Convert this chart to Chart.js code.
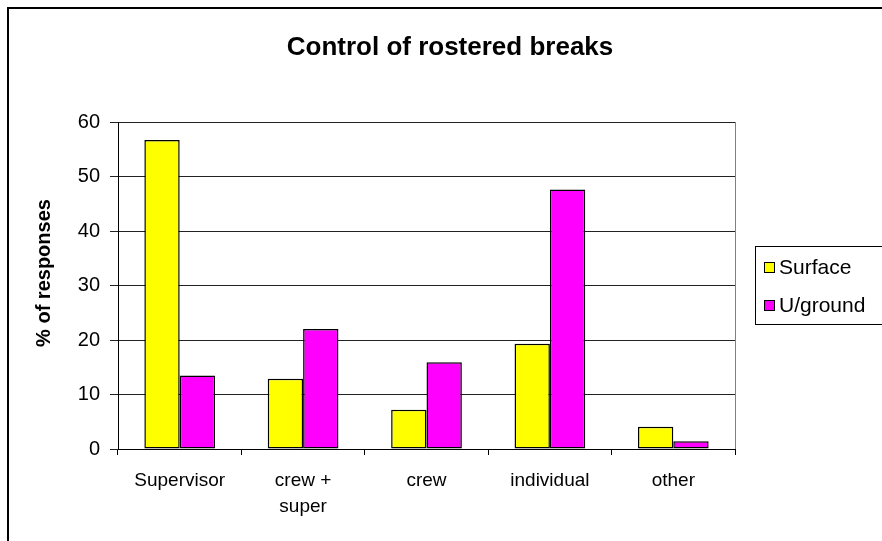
<!DOCTYPE html>
<html>
<head>
<meta charset="utf-8">
<script src="https://cdn.jsdelivr.net/npm/chart.js@4/dist/chart.umd.min.js"></script>
<style>
  html, body { margin: 0; padding: 0; background: #fff; }
  #wrap { position: relative; width: 882px; height: 541px; }
</style>
</head>
<body>
<div id="wrap">
  <canvas id="breaks-chart" width="882" height="541"></canvas>
</div>
<script>
const chartTitle = 'Control of rostered breaks';
const yAxisTitle = '% of responses';
const categories = ['Supervisor', ['crew +', 'super'], 'crew', 'individual', 'other'];
const surface = [56.7, 12.9, 7.2, 19.3, 4.1];
const uground = [13.5, 22.0, 15.9, 47.6, 1.4];
const yTicks = [0, 10, 20, 30, 40, 50, 60];

const FONT = 'Arial, "Liberation Sans", sans-serif';

// frame, title, plot border, axis title and boxed legend in the old spreadsheet style
const decorations = {
    id: 'decorations',
    beforeDraw(chart) {
        const ctx = chart.ctx;
        ctx.save();
        ctx.fillStyle = '#fff';
        ctx.fillRect(0, 0, chart.width, chart.height);
        ctx.strokeStyle = '#000';
        ctx.lineWidth = 2;
        ctx.beginPath();
        ctx.moveTo(8, chart.height);
        ctx.lineTo(8, 8);
        ctx.lineTo(chart.width, 8);
        ctx.stroke();
        ctx.restore();
    },
    afterDraw(chart) {
        const ctx = chart.ctx;
        const area = chart.chartArea;
        ctx.save();

        // chart title, centred over the whole frame
        ctx.fillStyle = '#000';
        ctx.font = 'bold 26px ' + FONT;
        ctx.textAlign = 'center';
        ctx.textBaseline = 'middle';
        ctx.fillText(chartTitle, 450, 48);

        // right edge of plot area
        ctx.strokeStyle = '#808080';
        ctx.lineWidth = 1;
        ctx.beginPath();
        ctx.moveTo(area.right + 0.5, area.top);
        ctx.lineTo(area.right + 0.5, area.bottom);
        ctx.stroke();

        // y axis title
        ctx.font = 'bold 20px ' + FONT;
        ctx.translate(44, 273);
        ctx.rotate(-Math.PI / 2);
        ctx.fillText(yAxisTitle, 0, 0);
        ctx.restore();

        // legend box
        ctx.save();
        const lx = 755, ly = 246;
        ctx.strokeStyle = '#000';
        ctx.lineWidth = 1;
        ctx.strokeRect(lx + 0.5, ly + 0.5, 140, 78);
        ctx.font = '21px ' + FONT;
        ctx.textBaseline = 'middle';
        chart.data.datasets.forEach((ds, i) => {
            const cy = 267 + i * 38;
            ctx.fillStyle = ds.backgroundColor;
            ctx.fillRect(764, cy - 5, 10, 10);
            ctx.strokeStyle = '#000';
            ctx.strokeRect(764.5, cy - 4.5, 10, 10);
            ctx.fillStyle = '#000';
            ctx.fillText(ds.label, 779, cy + 1);
        });
        ctx.restore();
    }
};

new Chart(document.getElementById('breaks-chart'), {
    type: 'bar',
    data: {
        labels: categories,
        datasets: [
            {
                label: 'Surface',
                data: surface,
                backgroundColor: '#FFFF00',
                borderColor: '#000',
                borderWidth: 1.5,
                borderSkipped: false
            },
            {
                label: 'U/ground',
                data: uground,
                backgroundColor: '#FF00FF',
                borderColor: '#000',
                borderWidth: 1.5,
                borderSkipped: false
            }
        ]
    },
    options: {
        responsive: false,
        animation: false,
        datasets: {
            bar: {
                categoryPercentage: 0.573,
                barPercentage: 1.0
            }
        },
        layout: {
            padding: { left: 0, right: 147, top: 122, bottom: 0 }
        },
        scales: {
            x: {
                grid: {
                    offset: true,
                    drawOnChartArea: false,
                    drawTicks: true,
                    tickLength: 6,
                    color: '#000'
                },
                border: { color: '#000', width: 1 },
                ticks: {
                    color: '#000',
                    font: { family: FONT, size: 19, lineHeight: 1.35 },
                    padding: 13,
                    maxRotation: 0,
                    autoSkip: false
                },
                afterFit(scale) {
                    scale.height = 92;
                }
            },
            y: {
                min: 0,
                max: 60,
                afterBuildTicks(scale) {
                    scale.ticks = yTicks.map(v => ({ value: v }));
                },
                grid: {
                    color: '#222',
                    lineWidth: 1,
                    tickLength: 8
                },
                border: { color: '#000', width: 1 },
                ticks: {
                    color: '#000',
                    font: { family: FONT, size: 20 },
                    padding: 10
                },
                afterFit(scale) {
                    scale.width = 118;
                }
            }
        },
        plugins: {
            legend: { display: false },
            tooltip: { enabled: false },
            title: { display: false }
        }
    },
    plugins: [decorations]
});
</script>
</body>
</html>
